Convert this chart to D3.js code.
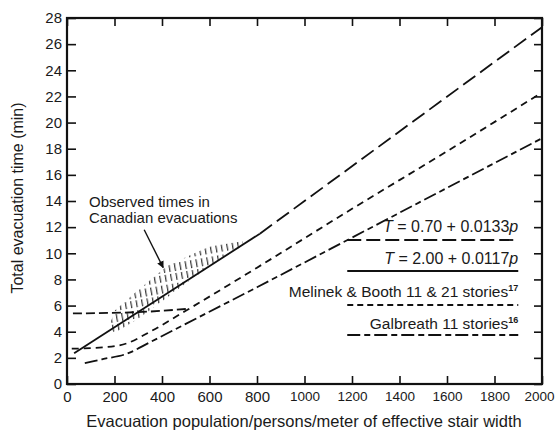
<!DOCTYPE html>
<html>
<head>
<meta charset="utf-8">
<script src="https://cdn.jsdelivr.net/npm/d3@7"></script>
<style>
  body { margin: 0; background: #fff; }
  text { font-family: "Liberation Sans", Arial, Helvetica, sans-serif; fill: #1a1a1a; }
  .axis path { display: none; }
  .axis line { stroke: #111; stroke-width: 1.6; }
</style>
</head>
<body>
<div id="chart-area"></div>
<script>
// tick values
var xTicks = [0, 200, 400, 600, 800, 1000, 1200, 1400, 1600, 1800, 2000];
var yTicks = [0, 2, 4, 6, 8, 10, 12, 14, 16, 18, 20, 22, 24, 26, 28];

// series: [persons per meter, minutes]
var solidLine = [[30, 2.35], [812, 11.5]];                 // T = 2.00 + 0.0117p
var longDashLine = [[812, 11.5], [2000, 27.3]];            // T = 0.70 + 0.0133p
var melinek11 = [[20, 2.7], [150, 2.8], [250, 3.1], [350, 4.0], [500, 5.6],
                 [800, 8.9], [1200, 13.4], [1600, 17.8], [2000, 22.3]];
var melinek21 = [[25, 5.4], [300, 5.5], [510, 5.75]];
var galbreath = [[75, 1.6], [150, 1.9], [250, 2.3], [350, 3.2], [500, 4.6],
                 [800, 7.4], [1200, 11.2], [1600, 15.0], [2000, 18.8]];

// observed band (hatched)
var observedUpper = [[180, 4.5], [200, 5.6], [300, 7.2], [420, 9.0], [500, 9.7],
                     [610, 10.6], [690, 10.8], [740, 10.9]];
var observedLower = [[180, 3.7], [300, 5.0], [420, 6.6], [500, 7.7], [610, 9.1], [740, 10.6]];

var chartWidth = 558, chartHeight = 434;
var margin = { top: 18, right: 16, bottom: 50, left: 67 };
var width = chartWidth - margin.left - margin.right,
    height = chartHeight - margin.top - margin.bottom;

var svg = d3.select("#chart-area").append("svg")
    .attr("width", chartWidth)
    .attr("height", chartHeight);

var defs = svg.append("defs");
var pat = defs.append("pattern")
    .attr("id", "hatch")
    .attr("patternUnits", "userSpaceOnUse")
    .attr("width", 5.5)
    .attr("height", 20)
    .attr("patternTransform", "rotate(-10)");
pat.append("line")
    .attr("x1", 2.5).attr("y1", 0).attr("x2", 2.5).attr("y2", 20)
    .attr("stroke", "#222")
    .attr("stroke-width", 1.1)
    .attr("stroke-dasharray", "8,2,7,3");

var g = svg.append("g")
    .attr("transform", "translate(" + margin.left + "," + margin.top + ")");

// scales
var x = d3.scaleLinear().domain([0, 2000]).range([0, width]);
var y = d3.scaleLinear().domain([0, 28]).range([height, 0]);

// axes, ticks pointing inward
g.append("g").attr("class", "axis")
    .call(d3.axisLeft(y).tickValues(yTicks).tickSizeInner(-9).tickSizeOuter(0).tickPadding(5))
    .selectAll("text").style("font-size", "15px");

g.append("g").attr("class", "axis")
    .attr("transform", "translate(0," + height + ")")
    .call(d3.axisBottom(x).tickValues(xTicks).tickFormat(d3.format("d"))
        .tickSizeInner(-8).tickSizeOuter(0).tickPadding(7))
    .selectAll("text")
    .style("font-size", function(d) { return d >= 1000 ? "13.5px" : "15px"; })
    .attr("x", function(d) { return d == 2000 ? -3 : 0; });

g.append("g").attr("class", "axis")
    .call(d3.axisTop(x).tickValues(xTicks).tickSizeInner(-8).tickSizeOuter(0).tickFormat(""));

g.append("g").attr("class", "axis")
    .attr("transform", "translate(" + width + ",0)")
    .call(d3.axisRight(y).tickValues(yTicks).tickSizeInner(-8).tickSizeOuter(0).tickFormat(""));

// frame
g.append("rect")
    .attr("width", width).attr("height", height)
    .attr("fill", "none").attr("stroke", "#111").attr("stroke-width", 2.2);

// hatched observed area
var band = observedLower.concat(observedUpper.slice().reverse());
g.append("path")
    .attr("d", d3.line().x(d => x(d[0])).y(d => y(d[1]))(band) + "Z")
    .attr("fill", "url(#hatch)");

var line = d3.line().curve(d3.curveMonotoneX).x(d => x(d[0])).y(d => y(d[1]));

function drawLine(data, dash, w) {
    g.append("path")
        .datum(data)
        .attr("d", line)
        .attr("fill", "none")
        .attr("stroke", "#111")
        .attr("stroke-width", w || 1.8)
        .attr("stroke-dasharray", dash);
}

drawLine(solidLine, null, 1.8);
drawLine(longDashLine, "15,6");
drawLine(melinek11, "7,5");
drawLine(melinek21, "9,4");
drawLine(galbreath, "13,4,6,4");

// annotation
var note = g.append("text").attr("x", 22).attr("y", 189).style("font-size", "15px");
note.append("tspan").attr("x", 22).text("Observed times in");
note.append("tspan").attr("x", 22).attr("dy", 16).text("Canadian evacuations");

defs.append("marker")
    .attr("id", "arrow")
    .attr("viewBox", "0 0 10 10")
    .attr("refX", 9).attr("refY", 5)
    .attr("markerWidth", 5).attr("markerHeight", 5)
    .attr("orient", "auto")
    .append("path").attr("d", "M0,0L10,5L0,10Z").attr("fill", "#111");

g.append("line")
    .attr("x1", x(325)).attr("y1", y(11.8))
    .attr("x2", x(405)).attr("y2", y(8.9))
    .attr("stroke", "#111").attr("stroke-width", 1.4)
    .attr("marker-end", "url(#arrow)");

// legend
var legendX0 = x(1180), legendX1 = x(1900);
var legendRows = [
    { dash: "14,5", y: 240 },
    { dash: null, y: 271 },
    { dash: "6,4", y: 305 },
    { dash: "13,4,6,4", y: 335 }
];

function italicFormula(sel, a, b) {
    sel.append("tspan").style("font-style", "italic").text("T");
    sel.append("tspan").text(" = " + a + " + " + b);
    sel.append("tspan").style("font-style", "italic").text("p");
}

var t0 = g.append("text").attr("x", legendX1).attr("y", 232 - margin.top)
    .attr("text-anchor", "end").style("font-size", "16px");
italicFormula(t0, "0.70", "0.0133");

var t1 = g.append("text").attr("x", legendX1).attr("y", 264 - margin.top)
    .attr("text-anchor", "end").style("font-size", "16px");
italicFormula(t1, "2.00", "0.0117");

var t2 = g.append("text").attr("x", legendX1).attr("y", 297 - margin.top)
    .attr("text-anchor", "end").style("font-size", "15.5px");
t2.append("tspan").text("Melinek & Booth 11 & 21 stories");
t2.append("tspan").attr("dy", -6).style("font-size", "9px").style("font-weight", "bold").text("17");

var t3 = g.append("text").attr("x", legendX1).attr("y", 329 - margin.top)
    .attr("text-anchor", "end").style("font-size", "15.5px");
t3.append("tspan").text("Galbreath 11 stories");
t3.append("tspan").attr("dy", -6).style("font-size", "9px").style("font-weight", "bold").text("16");

legendRows.forEach(function(r) {
    g.append("line")
        .attr("x1", legendX0).attr("x2", legendX1)
        .attr("y1", r.y - margin.top).attr("y2", r.y - margin.top)
        .attr("stroke", "#111").attr("stroke-width", 1.8)
        .attr("stroke-dasharray", r.dash);
});

// axis titles
svg.append("text")
    .attr("x", 304).attr("y", 427)
    .attr("text-anchor", "middle").style("font-size", "16.5px")
    .text("Evacuation population/persons/meter of effective stair width");

svg.append("text")
    .attr("transform", "translate(23,198) rotate(-90)")
    .attr("text-anchor", "middle").style("font-size", "16px")
    .text("Total evacuation time (min)");
</script>
</body>
</html>
